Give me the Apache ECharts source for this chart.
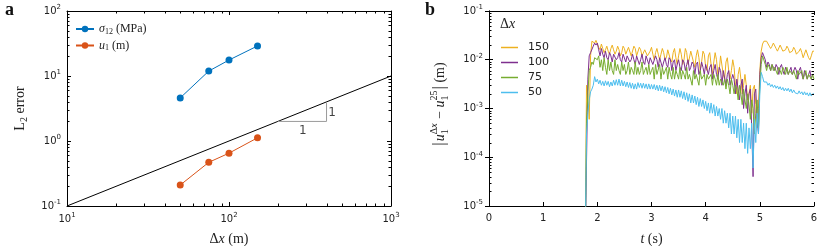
<!DOCTYPE html>
<html><head><meta charset="utf-8">
<script src="https://cdn.jsdelivr.net/npm/echarts@6/dist/echarts.min.js"></script>
<style>html,body{margin:0;padding:0;background:#fff}#c{width:830px;height:246px}</style>
</head><body><div id="c"></div>
<script>
// ---------- Panel a data ----------
const dxA = [50, 75, 100, 150];
const sigmaErr = [4.6, 11.9, 17.6, 29];
const u1Err = [0.21, 0.47, 0.65, 1.12];
const refLineX = [10, 1000];
const refLineY = [0.1, 10];
const triX = [200, 400, 400];
const triY = [2, 2, 4];

// ---------- Panel b data ----------
const tSec = [
1.75,1.775,1.8,1.825,1.85,1.875,1.9,1.925,1.95,1.975,
2,2.025,2.05,2.075,2.1,2.125,2.15,2.175,2.2,2.225,
2.25,2.275,2.3,2.325,2.35,2.375,2.4,2.425,2.45,2.475,
2.5,2.525,2.55,2.575,2.6,2.625,2.65,2.675,2.7,2.725,
2.75,2.775,2.8,2.825,2.85,2.875,2.9,2.925,2.95,2.975,
3,3.025,3.05,3.075,3.1,3.125,3.15,3.175,3.2,3.225,
3.25,3.275,3.3,3.325,3.35,3.375,3.4,3.425,3.45,3.475,
3.5,3.525,3.55,3.575,3.6,3.625,3.65,3.675,3.7,3.725,
3.75,3.775,3.8,3.825,3.85,3.875,3.9,3.925,3.95,3.975,
4,4.025,4.05,4.075,4.1,4.125,4.15,4.175,4.2,4.225,
4.25,4.275,4.3,4.325,4.35,4.375,4.4,4.425,4.45,4.475,
4.5,4.525,4.55,4.575,4.6,4.625,4.65,4.675,4.7,4.725,
4.75,4.775,4.8,4.825,4.85,4.875,4.9,4.925,4.95,4.975,
5,5.025,5.05,5.075,5.1,5.125,5.15,5.175,5.2,5.225,
5.25,5.275,5.3,5.325,5.35,5.375,5.4,5.425,5.45,5.475,
5.5,5.525,5.55,5.575,5.6,5.625,5.65,5.675,5.7,5.725,
5.75,5.775,5.8,5.825,5.85,5.875,5.9,5.925,5.95,5.975,
6];
const err150 = [
1e-7,1e-6,0.003,0.002,0.0006,0.012,0.024,0.026,0.022,0.025,
0.024,0.018,0.016,0.021,0.017,0.014,0.016,0.019,0.015,0.013,
0.017,0.020,0.016,0.013,0.015,0.019,0.016,0.012,0.014,0.019,
0.017,0.013,0.013,0.018,0.017,0.012,0.013,0.019,0.017,0.012,
0.012,0.018,0.016,0.012,0.011,0.016,0.017,0.012,0.011,0.015,
0.018,0.013,0.010,0.014,0.017,0.013,0.010,0.013,0.017,0.014,
0.010,0.011,0.016,0.016,0.010,0.009,0.014,0.017,0.011,0.008,
0.012,0.017,0.013,0.008,0.010,0.017,0.014,0.008,0.008,0.015,
0.016,0.009,0.007,0.012,0.016,0.011,0.006,0.009,0.015,0.013,
0.007,0.006,0.012,0.014,0.008,0.005,0.009,0.014,0.010,0.005,
0.006,0.012,0.011,0.005,0.004,0.009,0.011,0.006,0.004,0.006,
0.010,0.007,0.003,0.002,0.005,0.007,0.004,0.002,0.003,0.005,
0.003,0.0015,0.002,0.003,0.0008,0.0025,0.003,0.0012,0.0004,0.001,
0.006,0.015,0.021,0.024,0.023,0.024,0.022,0.019,0.017,0.019,
0.022,0.021,0.017,0.015,0.016,0.020,0.019,0.015,0.014,0.016,
0.019,0.017,0.014,0.013,0.015,0.018,0.016,0.013,0.012,0.015,
0.017,0.014,0.011,0.012,0.016,0.015,0.011,0.010,0.012,0.015,
0.015];
const err100 = [
1e-7,1e-6,0.00008,0.004,0.012,0.014,0.013,0.019,0.022,0.020,
0.022,0.016,0.012,0.017,0.013,0.011,0.015,0.011,0.010,0.014,
0.012,0.009,0.013,0.014,0.010,0.011,0.014,0.010,0.009,0.013,
0.012,0.009,0.012,0.013,0.009,0.010,0.013,0.010,0.008,0.012,
0.012,0.008,0.010,0.013,0.009,0.008,0.012,0.011,0.008,0.011,
0.012,0.008,0.008,0.012,0.010,0.007,0.011,0.011,0.007,0.009,
0.011,0.008,0.007,0.011,0.010,0.006,0.009,0.010,0.006,0.008,
0.010,0.007,0.006,0.010,0.009,0.006,0.008,0.010,0.006,0.007,
0.009,0.008,0.005,0.008,0.009,0.005,0.006,0.009,0.007,0.005,
0.008,0.008,0.005,0.007,0.008,0.004,0.006,0.008,0.005,0.004,
0.007,0.006,0.003,0.006,0.006,0.003,0.005,0.006,0.003,0.003,
0.005,0.004,0.002,0.004,0.004,0.0015,0.003,0.004,0.001,0.002,
0.003,0.0008,0.002,0.0025,0.0004,0.00004,0.002,0.0025,0.0006,0.0003,
0.005,0.011,0.014,0.013,0.010,0.007,0.009,0.008,0.006,0.008,
0.007,0.006,0.008,0.007,0.005,0.007,0.008,0.006,0.005,0.007,
0.007,0.005,0.006,0.007,0.005,0.005,0.007,0.006,0.004,0.006,
0.007,0.005,0.004,0.006,0.006,0.004,0.005,0.006,0.004,0.005,
0.005];
const err75 = [
1e-7,1e-6,0.0005,0.002,0.006,0.007,0.009,0.008,0.011,0.012,
0.010,0.012,0.007,0.010,0.006,0.011,0.007,0.005,0.010,0.006,
0.009,0.006,0.005,0.010,0.006,0.008,0.006,0.005,0.009,0.006,
0.008,0.005,0.006,0.009,0.005,0.007,0.006,0.005,0.009,0.005,
0.007,0.005,0.006,0.009,0.005,0.006,0.007,0.005,0.008,0.005,
0.006,0.007,0.004,0.008,0.005,0.005,0.008,0.004,0.007,0.005,
0.005,0.007,0.004,0.007,0.005,0.004,0.007,0.004,0.006,0.005,
0.004,0.007,0.004,0.006,0.005,0.004,0.007,0.004,0.005,0.005,
0.003,0.006,0.004,0.005,0.005,0.003,0.006,0.004,0.004,0.005,
0.003,0.005,0.004,0.004,0.005,0.003,0.005,0.004,0.003,0.005,
0.003,0.004,0.004,0.003,0.004,0.0025,0.004,0.003,0.002,0.004,
0.003,0.002,0.003,0.0025,0.0015,0.003,0.002,0.0012,0.0025,0.0015,
0.001,0.002,0.0012,0.0006,0.0015,0.001,0.0003,0.0008,0.0015,0.0004,
0.003,0.008,0.012,0.011,0.008,0.006,0.008,0.007,0.006,0.008,
0.006,0.007,0.007,0.005,0.007,0.006,0.005,0.007,0.006,0.005,
0.007,0.005,0.006,0.006,0.005,0.006,0.006,0.004,0.006,0.005,
0.005,0.006,0.004,0.005,0.006,0.004,0.005,0.005,0.004,0.005,
0.004];
const err50 = [
1e-7,1e-6,0.0003,0.0008,0.0015,0.0022,0.0025,0.003,0.0045,0.0035,
0.004,0.0032,0.0038,0.003,0.0036,0.0029,0.0037,0.003,0.0036,0.0028,
0.0035,0.0029,0.0038,0.003,0.0039,0.003,0.004,0.0029,0.0038,0.0029,
0.0036,0.0028,0.0035,0.0027,0.0034,0.0026,0.0033,0.0025,0.0032,0.0025,
0.0034,0.0027,0.0033,0.0026,0.0033,0.0026,0.0032,0.0025,0.0032,0.0025,
0.0031,0.0025,0.0031,0.0024,0.003,0.0023,0.003,0.0023,0.0029,0.0022,
0.0028,0.0021,0.0027,0.002,0.0026,0.0019,0.0025,0.0018,0.0024,0.0017,
0.0024,0.0017,0.0023,0.0016,0.0022,0.0015,0.0021,0.0014,0.002,0.0013,
0.0019,0.0013,0.0018,0.0012,0.0017,0.0011,0.0016,0.0011,0.0015,0.001,
0.0014,0.0009,0.0013,0.0008,0.0013,0.0008,0.0012,0.0007,0.0011,0.0007,
0.001,0.0006,0.001,0.0005,0.0009,0.0005,0.0008,0.0004,0.0008,0.0003,
0.0007,0.0003,0.0007,0.00025,0.0006,0.0002,0.0006,0.0002,0.0005,0.00015,
0.0005,0.00012,0.0004,0.00015,0.0005,0.00006,0.0006,0.0002,0.0008,0.0003,
0.002,0.0055,0.0045,0.0035,0.0032,0.0035,0.003,0.0033,0.0028,0.0031,
0.0027,0.003,0.0026,0.0029,0.0025,0.0028,0.0024,0.0027,0.0023,0.0026,
0.0023,0.0026,0.0022,0.0025,0.0021,0.0024,0.0021,0.0023,0.002,0.0023,
0.002,0.0022,0.0019,0.0022,0.0019,0.0021,0.0018,0.0021,0.0018,0.002,
0.002];
const seriesNamesB = ['150', '100', '75', '50'];

// ---------- helpers ----------
const SANS = 'DejaVu Sans';
const SERIF = 'Liberation Serif';
const zip = (a, b) => a.map((v, i) => [v, b[i]]);
function logMinors(lo, hi) {
  const out = [];
  for (let d = Math.round(Math.log10(lo)); d < Math.round(Math.log10(hi)); d++)
    for (let m = 2; m <= 9; m++) out.push(m * Math.pow(10, d));
  return out;
}
const powLabel = v => '{b|10}{s|' + Math.round(Math.log10(v)) + '}';
const powRich = {
  b: { fontFamily: SANS, fontSize: 10, color: '#222' },
  s: { fontFamily: SANS, fontSize: 7, color: '#222', padding: [0, 0, 7, 0] }
};
const axLine = { show: true, lineStyle: { color: '#000', width: 1 } };
const tickIn = { show: true, inside: true, length: 4, lineStyle: { color: '#000', width: 1 } };

// minor ticks on log axes: dir 'x' => ticks along x (lo/hi = y extent), 'y' => along y (lo/hi = x extent)
function minorSeries(xi, yi, vals, dir, lo, hi) {
  return {
    type: 'custom', xAxisIndex: xi, yAxisIndex: yi, silent: true, z: 5, clip: false,
    data: vals.map(v => [v]),
    renderItem: (params, api) => {
      const v = api.value(0);
      const L = 2.5, st = { stroke: '#000', lineWidth: 1 };
      if (dir === 'x') {
        const pb = api.coord([v, lo]), pt = api.coord([v, hi]);
        const x = Math.round(pb[0]) + 0.5;
        return { type: 'group', children: [
          { type: 'line', shape: { x1: x, y1: pb[1], x2: x, y2: pb[1] - L }, style: st },
          { type: 'line', shape: { x1: x, y1: pt[1], x2: x, y2: pt[1] + L }, style: st }
        ]};
      } else {
        const pl = api.coord([lo, v]), pr = api.coord([hi, v]);
        const y = Math.round(pl[1]) + 0.5;
        return { type: 'group', children: [
          { type: 'line', shape: { x1: pl[0], y1: y, x2: pl[0] + L, y2: y }, style: st },
          { type: 'line', shape: { x1: pr[0], y1: y, x2: pr[0] - L, y2: y }, style: st }
        ]};
      }
    }
  };
}

// stacked-script label for panel b y axis (reads bottom to top)
const ctx = document.createElement('canvas').getContext('2d');
function mw(text, font) { ctx.font = font; return ctx.measureText(text).width; }
function yLabelB() {
  const F = '14px "' + SERIF + '"', FI = 'italic 14px "' + SERIF + '"', FB = '17px "' + SERIF + '"';
  const f = '10px "' + SERIF + '"', fi = 'italic 10px "' + SERIF + '"';
  const parts = [];
  let x = 0;
  const add = (text, font, dy) => { parts.push({ text, font, x, dy }); x += mw(text, font); };
  add('|', FB, 0); x += 1;
  add('u', FI, 0);
  let x0 = x; const w1 = mw('Δ', f) + mw('x', fi);
  parts.push({ text: 'Δ', font: f, x: x0, dy: -6 });
  parts.push({ text: 'x', font: fi, x: x0 + mw('Δ', f), dy: -6 });
  parts.push({ text: '1', font: f, x: x0, dy: 5 });
  x = x0 + w1 + 1;
  add(' − ', F, 0);
  add('u', FI, 0);
  x0 = x;
  parts.push({ text: '25', font: f, x: x0, dy: -6 });
  parts.push({ text: '1', font: f, x: x0, dy: 5 });
  x = x0 + mw('25', f) + 1;
  add('|', FB, 0);
  add(' (m)', F, 0);
  const total = x;
  return parts.map(p => ({
    type: 'text',
    style: { text: p.text, font: p.font, fill: '#222', x: p.x - total / 2, y: p.dy, textVerticalAlign: 'middle' }
  }));
}

const chart = echarts.init(document.getElementById('c'), null, { renderer: 'canvas' });
const GA = { left: 67, top: 11, width: 324, height: 195, outerBoundsMode: 'none', containLabel: false };
const GB = { left: 489, top: 11, width: 325, height: 195, outerBoundsMode: 'none', containLabel: false };
const nameRich = {
  m: { fontFamily: SERIF, fontSize: 14, color: '#222' },
  i: { fontFamily: SERIF, fontStyle: 'italic', fontSize: 14, color: '#222' },
  s: { fontFamily: SERIF, fontSize: 10, color: '#222', padding: [7, 0, 0, 0] }
};

const option = {
  animation: false,
  grid: [GA, GB],
  xAxis: [
    { gridIndex: 0, type: 'log', min: 10, max: 1000, axisLine: axLine, axisTick: tickIn, splitLine: { show: false },
      axisLabel: { formatter: powLabel, rich: powRich, margin: 6 },
      name: '{m|Δ}{i|x}{m| (m)}', nameLocation: 'middle', nameGap: 26, nameTextStyle: { rich: nameRich } },
    { gridIndex: 0, type: 'log', min: 10, max: 1000, position: 'top', axisLine: axLine, axisTick: tickIn, axisLabel: { show: false }, splitLine: { show: false } },
    { gridIndex: 1, type: 'value', min: 0, max: 6, interval: 1, axisLine: axLine, axisTick: tickIn, splitLine: { show: false },
      axisLabel: { fontFamily: SANS, fontSize: 10, color: '#222', margin: 7 },
      name: '{i|t}{m| (s)}', nameLocation: 'middle', nameGap: 26, nameTextStyle: { rich: nameRich } },
    { gridIndex: 1, type: 'value', min: 0, max: 6, interval: 1, position: 'top', axisLine: axLine, axisTick: tickIn, axisLabel: { show: false }, splitLine: { show: false } }
  ],
  yAxis: [
    { gridIndex: 0, type: 'log', min: 0.1, max: 100, axisLine: axLine, axisTick: tickIn, splitLine: { show: false },
      axisLabel: { formatter: powLabel, rich: powRich, margin: 6 },
      name: '{m|L}{s|2}{m| error}', nameLocation: 'middle', nameGap: 38, nameRotate: 90, nameTextStyle: { rich: nameRich } },
    { gridIndex: 0, type: 'log', min: 0.1, max: 100, position: 'right', axisLine: axLine, axisTick: tickIn, axisLabel: { show: false }, splitLine: { show: false } },
    { gridIndex: 1, type: 'log', min: 1e-5, max: 0.1, axisLine: axLine, axisTick: tickIn, splitLine: { show: false },
      axisLabel: { formatter: powLabel, rich: powRich, margin: 6 } },
    { gridIndex: 1, type: 'log', min: 1e-5, max: 0.1, position: 'right', axisLine: axLine, axisTick: tickIn, axisLabel: { show: false }, splitLine: { show: false } }
  ],
  legend: [
    { left: 70, top: 18, orient: 'vertical', itemGap: 4, itemWidth: 18, itemHeight: 8, data: ['sigma', 'u'],
      formatter: n => n === 'sigma' ? '{i|σ}{s|12}{m| (MPa)}' : '{i|u}{s|1}{m| (m)}',
      textStyle: { rich: {
        i: { fontFamily: SERIF, fontStyle: 'italic', fontSize: 12, color: '#222' },
        s: { fontFamily: SERIF, fontSize: 8, color: '#222', padding: [5, 0, 0, 0] },
        m: { fontFamily: SERIF, fontSize: 12, color: '#222' } } } },
    { left: 496, top: 36, orient: 'vertical', itemGap: 2, itemWidth: 17, itemHeight: 1.5, icon: 'rect', data: seriesNamesB,
      textStyle: { fontFamily: SANS, fontSize: 11, color: '#222', lineHeight: 13, padding: [0, 0, 0, 5] } }
  ],
  series: [
    { type: 'line', name: 'ref', xAxisIndex: 0, yAxisIndex: 0, data: zip(refLineX, refLineY), symbol: 'none', lineStyle: { color: '#000', width: 1 }, silent: true },
    { type: 'line', name: 'tri', xAxisIndex: 0, yAxisIndex: 0, data: zip(triX, triY), symbol: 'none', lineStyle: { color: '#9a9a9a', width: 1 }, silent: true },
    { type: 'scatter', name: 'triLbl', xAxisIndex: 0, yAxisIndex: 0, symbolSize: 0, silent: true,
      data: [{ value: [286, 1.43], label: { formatter: '1' } }, { value: [432, 2.72], label: { formatter: '1' } }],
      label: { show: true, position: 'inside', fontFamily: SANS, fontSize: 12, color: '#111' } },
    { type: 'line', name: 'sigma', xAxisIndex: 0, yAxisIndex: 0, data: zip(dxA, sigmaErr), symbol: 'circle', symbolSize: 7,
      itemStyle: { color: '#0072BD' }, lineStyle: { color: '#0072BD', width: 1 }, z: 4 },
    { type: 'line', name: 'u', xAxisIndex: 0, yAxisIndex: 0, data: zip(dxA, u1Err), symbol: 'circle', symbolSize: 7,
      itemStyle: { color: '#D95319' }, lineStyle: { color: '#D95319', width: 1 }, z: 4 },
    minorSeries(0, 0, logMinors(10, 1000), 'x', 0.1, 100),
    minorSeries(0, 0, logMinors(0.1, 100), 'y', 10, 1000),
    minorSeries(2, 2, logMinors(1e-5, 0.1), 'y', 0, 6),
    { type: 'line', name: '150', xAxisIndex: 2, yAxisIndex: 2, data: zip(tSec, err150), symbol: 'none', lineStyle: { color: '#EDB120', width: 1 }, itemStyle: { color: '#EDB120' } },
    { type: 'line', name: '100', xAxisIndex: 2, yAxisIndex: 2, data: zip(tSec, err100), symbol: 'none', lineStyle: { color: '#7E2F8E', width: 1 }, itemStyle: { color: '#7E2F8E' } },
    { type: 'line', name: '75', xAxisIndex: 2, yAxisIndex: 2, data: zip(tSec, err75), symbol: 'none', lineStyle: { color: '#77AC30', width: 1 }, itemStyle: { color: '#77AC30' } },
    { type: 'line', name: '50', xAxisIndex: 2, yAxisIndex: 2, data: zip(tSec, err50), symbol: 'none', lineStyle: { color: '#4DBEEE', width: 1 }, itemStyle: { color: '#4DBEEE' } }
  ],
  graphic: [
    { type: 'text', left: 5, top: 1, style: { text: 'a', font: 'bold 18px "' + SERIF + '"', fill: '#111' } },
    { type: 'text', left: 425, top: 1, style: { text: 'b', font: 'bold 18px "' + SERIF + '"', fill: '#111' } },
    { type: 'group', x: 509, y: 24, children: [
      { type: 'text', style: { text: 'Δ', font: '14px "' + SERIF + '"', fill: '#222', x: -9, y: 0, textVerticalAlign: 'middle' } },
      { type: 'text', style: { text: 'x', font: 'italic 14px "' + SERIF + '"', fill: '#222', x: 0, y: 0, textVerticalAlign: 'middle' } }
    ] },
    { type: 'group', x: 440, y: 104, rotation: Math.PI / 2, children: yLabelB() }
  ]
};
chart.setOption(option);
</script>
</body></html>
